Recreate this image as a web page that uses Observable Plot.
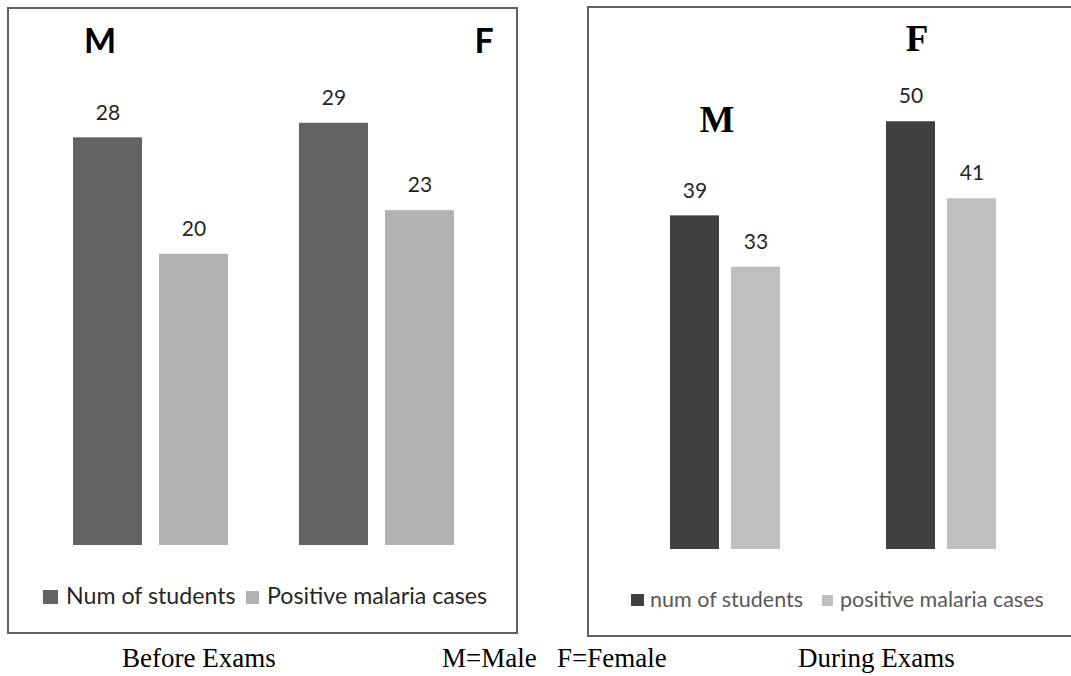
<!DOCTYPE html>
<html>
<head>
<meta charset="utf-8">
<script src="https://cdn.jsdelivr.net/npm/d3@7"></script>
<script src="https://cdn.jsdelivr.net/npm/@observablehq/plot@0.6"></script>
<style>
  body { margin: 0; background: #fff; }
  #page { position: relative; width: 1071px; height: 676px; overflow: hidden; background: #fff; }
  .panel { position: absolute; box-sizing: border-box; border: 2px solid #606060; }
  .chart { position: absolute; }
  #overlay { position: absolute; left: 0; top: 0; pointer-events: none; }
</style>
</head>
<body>
<div id="page"></div>
<script>
// ---- data ----
const sexes = ["M", "F"];
const seriesBefore = ["Num of students", "Positive malaria cases"];
const studentsBefore = [28, 29];
const positiveBefore = [20, 23];
const seriesDuring = ["num of students", "positive malaria cases"];
const studentsDuring = [39, 50];
const positiveDuring = [33, 41];
const captionBefore = "Before Exams";
const captionKey = "M=Male   F=Female";
const captionDuring = "During Exams";

function rowsOf(series, a, b) {
  const out = [];
  sexes.forEach((s, i) => {
    out.push({sex: s, series: series[0], value: a[i]});
    out.push({sex: s, series: series[1], value: b[i]});
  });
  return out;
}
const rowsBefore = rowsOf(seriesBefore, studentsBefore, positiveBefore);
const rowsDuring = rowsOf(seriesDuring, studentsDuring, positiveDuring);

const page = document.getElementById("page");

function chart(o) {
  return Plot.plot({
    width: o.width, height: o.height,
    marginTop: o.mt, marginBottom: o.mb, marginLeft: o.ml, marginRight: o.mr,
    style: {background: "transparent", overflow: "visible"},
    facet: {data: o.rows, x: "sex"},
    fx: {domain: sexes, paddingInner: o.fxPad, paddingOuter: 0, axis: null, label: null},
    x: {domain: o.series, paddingInner: o.xPad, paddingOuter: 0, axis: null, label: null},
    y: {domain: [0, o.yMax], axis: null, label: null},
    color: {domain: o.series, range: o.colors},
    marks: [
      Plot.barY(o.rows, {x: "series", y: "value", fill: "series"}),
      Plot.text(o.rows, {x: "series", y: "value", text: d => String(d.value), dy: -25,
        fontSize: 21, fill: "#262626", fontFamily: "Lato"})
    ]
  });
}

// panels (borders)
function panel(left, top, w, h) {
  const d = document.createElement("div");
  d.className = "panel";
  Object.assign(d.style, {left: left + "px", top: top + "px", width: w + "px", height: h + "px"});
  page.appendChild(d);
}
panel(7, 7, 511, 627);
panel(587, 6, 520, 631);

const colorsBefore = ["#636363", "#b2b2b2"];
const colorsDuring = ["#404040", "#bfbfbf"];

const c1 = chart({rows: rowsBefore, series: seriesBefore, colors: colorsBefore,
  width: 507, height: 623, mt: 536 - 30 * 14.56, mb: 87, ml: 63, mr: 61,
  yMax: 30, fxPad: 0.307, xPad: 0.1954});
c1.classList.add("chart");
Object.assign(c1.style, {left: "9px", top: "9px"});
page.appendChild(c1);

const c2 = chart({rows: rowsDuring, series: seriesDuring, colors: colorsDuring,
  width: 482, height: 627, mt: 541 - 60 * 8.555, mb: 86, ml: 80, mr: 75,
  yMax: 60, fxPad: 0.493, xPad: 0.197});
c2.classList.add("chart");
Object.assign(c2.style, {left: "589px", top: "8px"});
page.appendChild(c2);

// overlay: group labels, legends, captions
const svg = d3.select(page).append("svg").attr("id", "overlay")
  .attr("width", 1071).attr("height", 676);

function txt(x, y, s, font, size, weight, fill, anchor) {
  svg.append("text").attr("x", x).attr("y", y).text(s)
    .attr("font-family", font).attr("font-size", size).attr("font-weight", weight)
    .attr("fill", fill).attr("text-anchor", anchor || "start")
    .style("white-space", "pre");
}

// group labels
txt(100, 53, sexes[0], "Lato", 34, "bold", "#000", "middle");
txt(484, 53, sexes[1], "Lato", 34, "bold", "#000", "middle");
txt(717, 132, sexes[0], "Liberation Serif", 37, "bold", "#000", "middle");
txt(917, 51, sexes[1], "Liberation Serif", 37, "bold", "#000", "middle");

// legends
function swatch(x, y, w, h, fill) {
  svg.append("rect").attr("x", x).attr("y", y).attr("width", w).attr("height", h).attr("fill", fill);
}
swatch(43, 590, 15, 14, colorsBefore[0]);
txt(66, 604, seriesBefore[0], "Lato", 23.2, "normal", "#262626");
swatch(246, 591, 13, 13, colorsBefore[1]);
txt(267, 604, seriesBefore[1], "Lato", 23.2, "normal", "#262626");

swatch(631, 594, 13, 12, colorsDuring[0]);
txt(650, 607, seriesDuring[0], "Lato", 21.5, "normal", "#595959");
swatch(822, 595, 11, 11, colorsDuring[1]);
txt(840, 607, seriesDuring[1], "Lato", 21.5, "normal", "#595959");

// captions
txt(122, 667, captionBefore, "Liberation Serif", 27, "normal", "#000");
txt(442, 667, captionKey, "Liberation Serif", 27, "normal", "#000");
txt(798, 667, captionDuring, "Liberation Serif", 27, "normal", "#000");
</script>
</body>
</html>
